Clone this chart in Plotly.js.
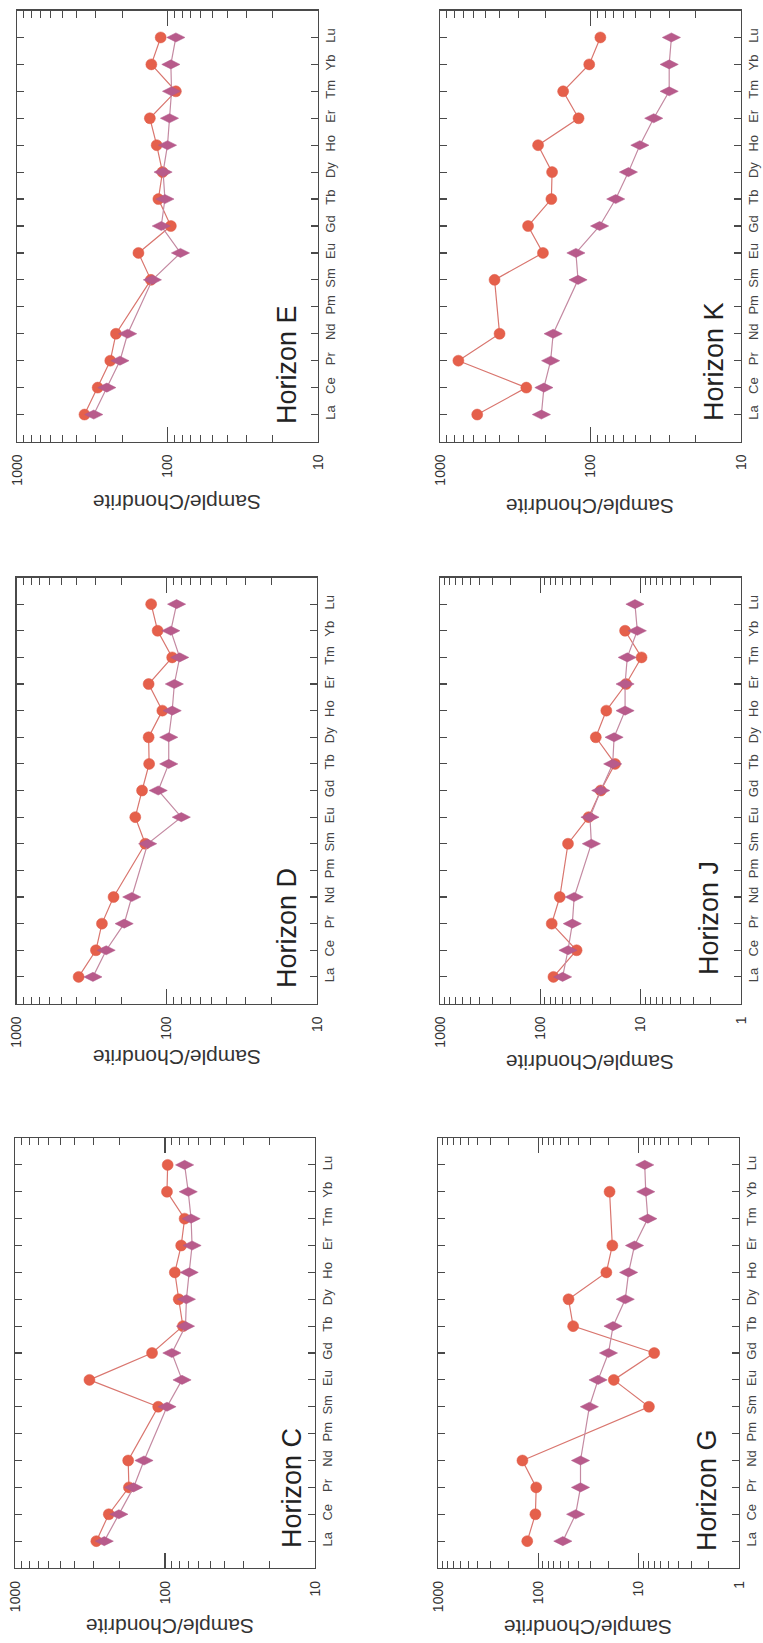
<!DOCTYPE html>
<html>
<head>
<meta charset="utf-8">
<script src="https://cdn.plot.ly/plotly-3.0.1.min.js"></script>
<style>
html,body{margin:0;padding:0;background:#fff;}
#chart{width:763px;height:1643px;}
</style>
</head>
<body>
<div id="chart"></div>
<script>
// REE categories (chondrite-normalised), Pm has no data
const ree = ['La','Ce','Pr','Nd','Pm','Sm','Eu','Gd','Tb','Dy','Ho','Er','Tm','Yb','Lu'];

// Series values (La -> Lu)
const E_circle  = [356, 291, 240, 220, null, 129, 156, 95, 115, 108, 118, 131, 88, 128, 111];
const E_diamond = [309, 253, 207, 184, null, 126, 82, 110, 104, 107, 100, 97, 94, 95, 88];

const D_circle  = [386, 296, 270, 226, null, 139, 162, 146, 131, 132, 107, 132, 92, 115, 127];
const D_diamond = [310, 253, 192, 171, null, 134, 80, 114, 97, 97, 92, 89, 82, 94, 86];

const C_circle  = [287, 237, 174, 176, null, 111, 319, 122, 76, 81, 86, 78, 74, 97, 96];
const C_diamond = [254, 203, 162, 138, null, 97, 77, 90, 73, 72, 69, 66, 67, 70, 74];

const K_circle  = [566, 267, 755, 402, null, 434, 207, 260, 182, 180, 223, 120, 152, 102, 86];
const K_diamond = [212, 204, 184, 177, null, 121, 125, 87, 68, 56, 47, 38, 30, 30, 29];

const J_circle  = [74, 43.5, 77, 64, null, 53, 33, 25, 18, 28, 22, 14, 9.8, 14.3, null];
const J_diamond = [60, 53, 48, 46, null, 31, 32, 25, 19, 18.4, 14.3, 14.3, 13.6, 10.8, 11.4];

const G_circle  = [129, 107, 105, 144, null, 7.9, 17.7, 7.0, 45, 50, 21, 18.3, null, 19.5, null];
const G_diamond = [57, 42.5, 38, 38, null, 31, 25.4, 20, 18, 13.6, 12.6, 11, 8.1, 8.5, 8.7];

const horizons = ['Horizon E','Horizon D','Horizon C','Horizon K','Horizon J','Horizon G'];
const circles  = [E_circle, D_circle, C_circle, K_circle, J_circle, G_circle];
const diamonds = [E_diamond, D_diamond, C_diamond, K_diamond, J_diamond, G_diamond];

const tickLabels3 = ['1000','100','10'];
const tickValues3 = [1000,100,10];
const tickLabels4 = ['1000','100','10','1'];
const tickValues4 = [1000,100,10,1];
const yTitle = 'Sample/Chondrite';

// ---- layout geometry (pixels in the 763x1643 page) ----
const W = 763, H = 1643;
const panels = [
  {x:[17,318],  y:[10.5,441.5],   low:1, title:[287,365],  lab:[177,502]},
  {x:[16.5,317],y:[577.5,1003.5], low:1, title:[287,928],  lab:[177,1058]},
  {x:[15,315],  y:[1138,1568],    low:1, title:[292,1488], lab:[170,1627]},
  {x:[440,741], y:[10.5,441.5],   low:1, title:[714,362],  lab:[590,507]},
  {x:[440,741], y:[577.5,1003.5], low:0, title:[709,918],  lab:[590,1063]},
  {x:[438,739], y:[1138,1568],    low:0, title:[707,1490], lab:[588,1628]}
];
const px = v => v / W;
const py = v => 1 - v / H;

const idx = ree.map((_, i) => i);
const font = 'Liberation Sans, Arial, Helvetica, sans-serif';
const axisColor = '#4a4a4a';

function minorVals(low) {
  const out = [];
  for (let d = low; d < 3; d++) {
    const base = Math.pow(10, d);
    for (let m = 2; m <= 9; m++) out.push(m * base);
  }
  return out;
}

const data = [];
const layout = {
  width: W, height: H,
  margin: {l:0, r:0, t:0, b:0},
  paper_bgcolor: '#fff', plot_bgcolor: '#fff',
  showlegend: false,
  font: {family: font, color: '#333'},
  annotations: []
};

panels.forEach((p, i) => {
  const n = i + 1;
  const xa = 'x' + (n === 1 ? '' : n);
  const ya = 'y' + (n === 1 ? '' : n);
  data.push({
    type: 'scatter', mode: 'lines+markers',
    x: circles[i], y: idx, xaxis: xa, yaxis: ya,
    connectgaps: true,
    line: {color: '#d9766f', width: 1.2},
    marker: {symbol: 'circle', size: 11, color: '#e5604b', line: {color: '#de5a48', width: 0.5}}
  });
  data.push({
    type: 'scatter', mode: 'lines+markers',
    x: diamonds[i], y: idx, xaxis: xa, yaxis: ya,
    connectgaps: true,
    line: {color: '#c48aa2', width: 1.2},
    marker: {symbol: 'diamond-wide', size: 13, color: '#b85b8b', line: {color: '#b0588a', width: 0.5}}
  });
  const tv = p.low === 0 ? tickValues4 : tickValues3;
  const tt = p.low === 0 ? tickLabels4 : tickLabels3;
  layout['xaxis' + (n === 1 ? '' : n)] = {
    type: 'log', range: [3, p.low], domain: [px(p.x[0]), px(p.x[1])],
    anchor: ya, side: 'bottom',
    tickmode: 'array', tickvals: tv, ticktext: tt, tickangle: -90,
    ticks: 'inside', ticklen: 15, tickwidth: 1.2, tickcolor: axisColor,
    minor: {tickmode: 'array', tickvals: minorVals(p.low), ticks: 'inside', ticklen: 7, tickwidth: 1, tickcolor: axisColor, showgrid: false},
    showline: true, linecolor: axisColor, linewidth: 1.4, mirror: 'ticks',
    showgrid: false, zeroline: false, fixedrange: true,
    tickfont: {size: 14, color: '#333', family: font},
    ticklabelstandoff: 6
  };
  layout['yaxis' + (n === 1 ? '' : n)] = {
    range: [-1, 15], domain: [py(p.y[1]), py(p.y[0])],
    anchor: xa, side: 'right',
    tickmode: 'array', tickvals: idx, ticktext: ree, tickangle: -90,
    ticks: 'inside', ticklen: 7, tickwidth: 1.2, tickcolor: axisColor,
    showline: true, linecolor: axisColor, linewidth: 1.4, mirror: 'ticks',
    showgrid: false, zeroline: false, fixedrange: true,
    tickfont: {size: 13, color: '#444', family: font},
    ticklabelstandoff: 0
  };
  layout.annotations.push({
    text: horizons[i], xref: 'paper', yref: 'paper',
    x: px(p.title[0]), y: py(p.title[1]), xanchor: 'center', yanchor: 'middle',
    textangle: -90, showarrow: false,
    font: {size: 27, color: '#222', family: font}
  });
  layout.annotations.push({
    text: yTitle, xref: 'paper', yref: 'paper',
    x: px(p.lab[0]), y: py(p.lab[1]), xanchor: 'center', yanchor: 'middle',
    textangle: 180, showarrow: false,
    font: {size: 21, color: '#333', family: font}
  });
});

Plotly.newPlot('chart', data, layout, {staticPlot: true, displayModeBar: false});
</script>
</body>
</html>
